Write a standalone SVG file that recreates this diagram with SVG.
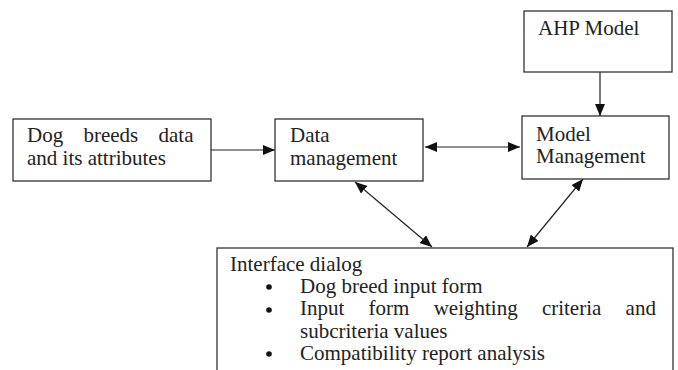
<svg xmlns="http://www.w3.org/2000/svg" width="678" height="370" viewBox="0 0 678 370">
<defs>
<marker id="ah" viewBox="0 0 12 10" refX="12" refY="5" markerWidth="12" markerHeight="10" markerUnits="userSpaceOnUse" orient="auto-start-reverse">
<path d="M0,0 L12,5 L0,10 Z" fill="#111"/>
</marker>
</defs>
<style>
.box{fill:#fff;stroke:#333;stroke-width:1.3}
.c{stroke:#222;stroke-width:1.2;fill:none}
.b{fill:#111}
</style>
<rect width="678" height="370" fill="#fff"/>
<g id="connectors">
<line class="c" x1="211" y1="150" x2="275" y2="150" marker-end="url(#ah)"/>
<line class="c" x1="425" y1="147" x2="520" y2="147" marker-start="url(#ah)" marker-end="url(#ah)"/>
<line class="c" x1="600" y1="72" x2="600" y2="116" marker-end="url(#ah)"/>
<line class="c" x1="355" y1="182" x2="432" y2="247" marker-start="url(#ah)" marker-end="url(#ah)"/>
<line class="c" x1="583" y1="179" x2="527" y2="247" marker-start="url(#ah)" marker-end="url(#ah)"/>
</g>
<g font-family="Liberation Serif, DejaVu Serif, Times New Roman, serif" font-size="21" fill="#222">
<g id="dog-breeds">
<rect class="box" x="13" y="119" width="198" height="62"/>
<text x="27" y="142" word-spacing="15">Dog breeds data</text>
<text x="27" y="165">and its attributes</text>
</g>
<g id="data-management">
<rect class="box" x="275" y="119" width="148" height="62"/>
<text x="290" y="142">Data</text>
<text x="290" y="165">management</text>
</g>
<g id="ahp-model">
<rect class="box" x="524" y="11" width="148" height="61"/>
<text x="538" y="35">AHP Model</text>
</g>
<g id="model-management">
<rect class="box" x="522" y="116" width="147" height="63"/>
<text x="536" y="141">Model</text>
<text x="536" y="163">Management</text>
</g>
<g id="interface-dialog">
<rect class="box" x="217" y="248" width="456" height="140"/>
<text x="230" y="271">Interface dialog</text>
<circle class="b" cx="269" cy="287" r="2.8"/>
<text x="300" y="293">Dog breed input form</text>
<circle class="b" cx="269" cy="310" r="2.8"/>
<text x="300" y="315" word-spacing="19">Input form weighting criteria and</text>
<text x="300" y="338">subcriteria values</text>
<circle class="b" cx="269" cy="354" r="2.8"/>
<text x="300" y="360">Compatibility report analysis</text>
</g>
</g>
</svg>
